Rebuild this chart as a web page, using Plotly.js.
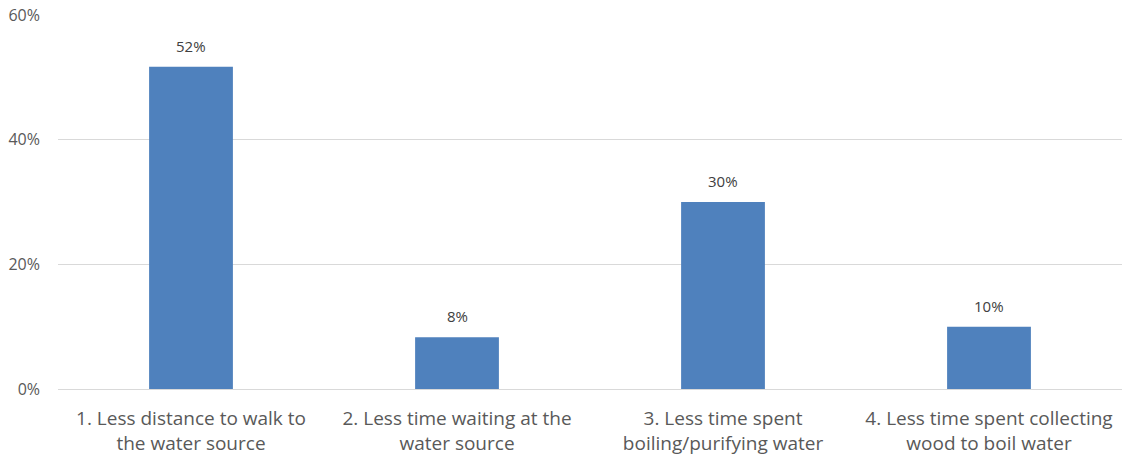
<!DOCTYPE html>
<html>
<head>
<meta charset="utf-8">
<script src="https://cdn.plot.ly/plotly-3.0.1.min.js"></script>
<style>html,body{margin:0;padding:0;background:#fff;}#chart{width:1126px;height:459px;}</style>
</head>
<body>
<div id="chart"></div>
<script>
const categories = [
  "1. Less distance to walk to<br>the water source",
  "2. Less time waiting at the<br>water source",
  "3. Less time spent<br>boiling/purifying water",
  "4. Less time spent collecting<br>wood to boil water"
];
const values = [51.7, 8.3, 30, 10];
const labels = ["52%", "8%", "30%", "10%"];
const tickVals = [0, 20, 40, 60];
const tickText = ["0%", "20%", "40%", "60%"];

const annotations = categories.map((c, i) => ({
  x: c, y: values[i], xref: "x", yref: "y",
  text: labels[i], showarrow: false,
  yanchor: "bottom", yshift: 9,
  font: {family: "Open Sans, sans-serif", size: 15, color: "#404040"}
}));

Plotly.newPlot("chart", [{
  type: "bar",
  x: categories,
  y: values,
  marker: {color: "#4f81bd"},
  width: 0.315,
  hoverinfo: "none"
}], {
  width: 1126, height: 459,
  margin: {l: 58, r: 4, t: 15, b: 70},
  paper_bgcolor: "#fff", plot_bgcolor: "#fff",
  showlegend: false,
  annotations: annotations,
  font: {family: "Open Sans, sans-serif", color: "#595959"},
  xaxis: {
    type: "category",
    tickfont: {size: 19, color: "#595959"},
    showgrid: false, zeroline: false, showline: false,
    ticks: "", ticklen: 0, ticklabelstandoff: 16
  },
  yaxis: {
    range: [0, 60],
    tickvals: tickVals, ticktext: tickText,
    tickfont: {size: 16, color: "#595959"},
    showgrid: true, gridcolor: "#d9d9d9", gridwidth: 1,
    zeroline: true, zerolinecolor: "#d9d9d9", zerolinewidth: 1,
    showline: false, ticks: "", ticklabelstandoff: 17
  }
}, {staticPlot: true});
</script>
</body>
</html>
